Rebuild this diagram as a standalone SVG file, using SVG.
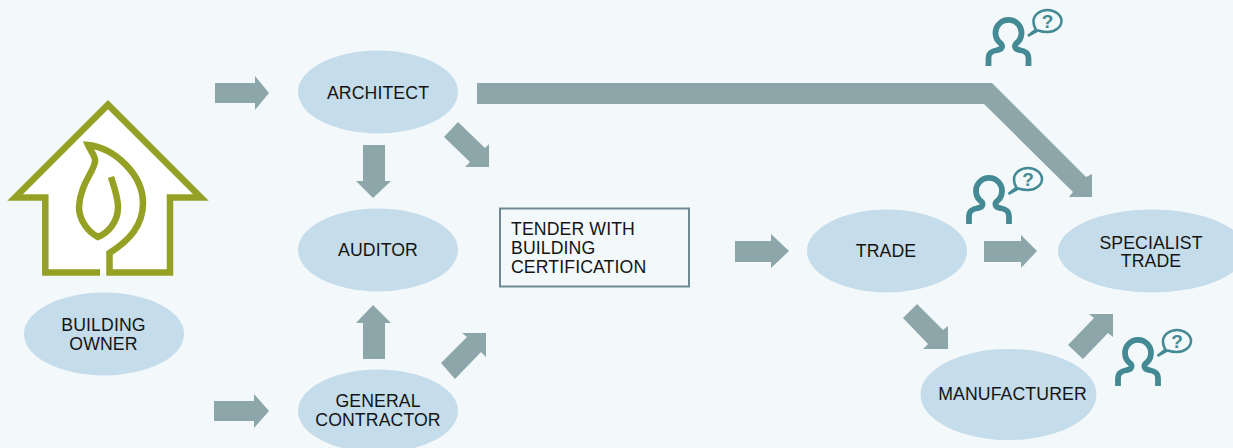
<svg xmlns="http://www.w3.org/2000/svg" xmlns:xlink="http://www.w3.org/1999/xlink" width="1233" height="448" viewBox="0 0 1233 448">
<style>
.n{fill:#c5dcea}
.t{font-family:"Liberation Sans",Arial,sans-serif;font-size:17.700px;letter-spacing:.1px;fill:#141414;text-anchor:middle}
.l{text-anchor:start}
.a{fill:#8ca6aa}
.g{fill:none;stroke:#95a125;stroke-width:6.500;stroke-miterlimit:8}
.p{fill:none;stroke:#438a94;stroke-width:5.800}
.b{fill:#f3f8fb;stroke:#438a94;stroke-width:2.500}
.q{font-family:"Liberation Sans",Arial,sans-serif;font-size:19px;font-weight:bold;fill:#438a94;text-anchor:middle}
</style>
<defs>
<g id="person">
<path class="p" d="M-20 33V25C-20 20-17 18-11 17C-6.500 16.500-5 13-8 10.200A13 13 0 1 1 8 10.200C5 13 6.500 16.500 11 17C17 18 20 20 20 25V33"/>
<path class="b" d="M19.500 3L27.500 -3.500C25.500 -6 25 -9 25 -12C25 -18 31.500 -23 39 -23C46.500 -23 53 -18 53 -12C53 -6 46.500 -1 39 -1C35 -1 32.500 -1.500 29.500 -2.500Z"/>
</g>
</defs>
<rect width="1233" height="448" fill="#f3f8fb"/>
<g id="connectors">
<polygon class="a" points="215,83 255,83 255,76 269,93 255,110 255,103 215,103"/>
<polygon class="a" points="214,401 254,401 254,394 269,411 254,428 254,421 214,421"/>
<polygon class="a" points="363,145 385,145 385,181 391,181 373,198 356,181 363,181"/>
<polygon class="a" points="363,359 385,359 385,323 391,323 373,305 356,323 363,323"/>
<polygon class="a" points="458,122 485,148 489,144 489,167 465,167 470,162 444,137"/>
<polygon class="a" points="441,363 467,337 462,333 486,333 486,357 481,352 455,379"/>
<polygon class="a" points="735,241 771,241 771,234 789,251 771,268 771,262 735,262"/>
<polygon class="a" points="984,241 1021,241 1021,235 1037,251 1021,268 1021,262 984,262"/>
<polygon class="a" points="917,304 943,330 948,326 948,349 923,349 928,344 903,318"/>
<polygon class="a" points="1068,345 1094,318 1089,314 1113,314 1113,337 1108,333 1083,359"/>
<polygon class="a" points="477,83 992,83 1086,177 1092,174 1092,197 1069,197 1073,192 984,104 477,104"/>
</g>
<g id="house">
<path d="M108 105L15 197.500H45.300V272.500H170V197.500H201Z" fill="#fff"/>
<path class="g" d="M100 272.500H45.300V197.500H15.100L108 104.600L200.900 197.500H170V272.500H109.500V253C130 240 143 225 143 203C143 175 115 148 88 145C91 152 96 156 95 162C93 173 80 185 79 207C79 220 88 232 98 237C108 233 118 222 118 207C118 197 114 187 111 177"/>
</g>
<g id="building-owner"><ellipse class="n" cx="104" cy="334" rx="80" ry="41.500"/><text class="t" x="103.500" y="331">BUILDING</text><text class="t" x="103.500" y="350">OWNER</text></g>
<g id="architect"><ellipse class="n" cx="378" cy="92" rx="80" ry="41.500"/><text class="t" x="378" y="99">ARCHITECT</text></g>
<g id="auditor"><ellipse class="n" cx="378" cy="250" rx="80" ry="41.500"/><text class="t" x="378" y="256">AUDITOR</text></g>
<g id="general-contractor"><ellipse class="n" cx="378" cy="411" rx="80" ry="41.500"/><text class="t" x="378" y="407">GENERAL</text><text class="t" x="378" y="426">CONTRACTOR</text></g>
<g id="tender"><rect x="500" y="208.500" width="189" height="78" fill="#f3f8fb" stroke="#6f8994" stroke-width="2"/><text class="t l" x="511" y="235">TENDER WITH</text><text class="t l" x="511" y="254">BUILDING</text><text class="t l" x="511" y="273">CERTIFICATION</text></g>
<g id="trade"><ellipse class="n" cx="887" cy="251" rx="80" ry="41.500"/><text class="t" x="886" y="257">TRADE</text></g>
<g id="specialist-trade"><ellipse class="n" cx="1152" cy="251" rx="94" ry="41.500"/><text class="t" x="1151" y="249">SPECIALIST</text><text class="t" x="1151" y="267">TRADE</text></g>
<g id="manufacturer"><ellipse class="n" cx="1008.500" cy="394.500" rx="88" ry="45.500"/><text class="t" x="1012.500" y="400">MANUFACTURER</text></g>
<g id="person-1"><use href="#person" x="1008.500" y="33"/><text class="q" x="1047.500" y="28">?</text></g>
<g id="person-2"><use href="#person" x="989" y="191"/><text class="q" x="1028" y="186">?</text></g>
<g id="person-3"><use href="#person" x="1138" y="353"/><text class="q" x="1177" y="348">?</text></g>
</svg>
